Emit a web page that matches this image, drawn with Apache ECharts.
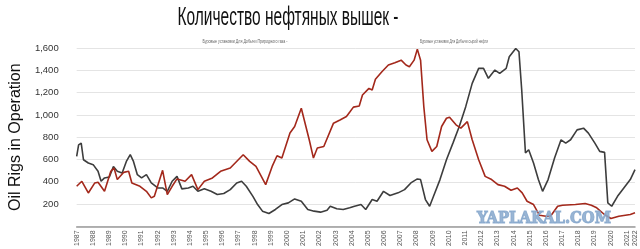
<!DOCTYPE html>
<html>
<head>
<meta charset="utf-8">
<script src="https://cdn.jsdelivr.net/npm/echarts@6/dist/echarts.min.js"></script>
<style>
html,body{margin:0;padding:0;background:#fff;}
#chart{width:640px;height:249px;}
</style>
</head>
<body>
<div id="chart"></div>
<script>
// ---- DATA ----
var titleText = 'Количество нефтяных вышек -';
var yAxisName = 'Oil Rigs in Operation';
var gasName = 'Буровые установки Для Добычи Природного газа -';
var oilName = 'Буровые установки Для Добычи сырой нефти';
var watermark = 'YAPLAKAL.COM';

var gasYears = [1987.0,1987.32,1987.72,1988.12,1988.32,1988.72,1989.11,1989.31,1989.51,1989.91,1990.21,1990.41,1990.91,1991.31,1991.61,1991.8,1992.31,1992.6,1992.9,1993.2,1993.7,1994.1,1994.49,1994.89,1995.39,1995.89,1996.49,1997.29,1997.69,1998.08,1998.68,1999.08,1999.38,1999.68,2000.18,2000.47,2000.88,2001.37,2001.63,2001.87,2002.27,2002.87,2003.27,2003.67,2003.9,2004.1,2004.46,2004.66,2005.06,2005.26,2005.46,2005.86,2006.26,2006.66,2007.05,2007.35,2007.56,2007.85,2008.05,2008.25,2008.45,2008.65,2008.95,2009.25,2009.55,2009.85,2010.04,2010.44,2010.74,2011.14,2011.44,2011.84,2012.24,2012.64,2013.03,2013.44,2013.84,2014.23,2014.53,2014.83,2015.23,2015.6,2016.0,2016.3,2016.72,2017.02,2017.82,2018.42,2018.8,2019.1,2019.61,2020.01,2020.5,2021.21,2021.5];
var gasValues = [360,405,300,390,396,315,494,524,420,485,494,390,360,315,256,270,503,286,360,426,405,464,330,405,435,494,524,643,583,538,375,538,634,613,837,896,1060,777,613,703,717,926,955,985,1030,1070,1080,1179,1238,1223,1319,1387,1447,1467,1491,1447,1432,1491,1590,1491,1074,777,673,717,896,970,980,911,881,940,777,598,449,420,375,360,324,345,301,226,196,100,92,95,181,190,196,205,190,170,107,71,92,107,122];

var oilYears = [1987.0,1987.12,1987.28,1987.42,1987.72,1988.02,1988.32,1988.51,1988.72,1989.02,1989.27,1989.51,1989.81,1990.07,1990.31,1990.51,1990.75,1991.01,1991.31,1991.61,1992.01,1992.31,1992.6,1992.9,1993.2,1993.5,1993.9,1994.19,1994.49,1994.89,1995.3,1995.69,1996.09,1996.49,1996.89,1997.19,1997.48,1997.89,1998.18,1998.48,1998.88,1999.28,1999.68,2000.08,2000.47,2000.88,2001.28,2001.67,2002.07,2002.47,2002.67,2003.07,2003.47,2003.87,2004.17,2004.57,2004.86,2005.26,2005.56,2005.96,2006.36,2006.86,2007.26,2007.65,2008.05,2008.25,2008.55,2008.81,2009.05,2009.45,2009.85,2010.25,2010.64,2011.04,2011.44,2011.84,2012.14,2012.44,2012.84,2013.14,2013.54,2013.73,2014.13,2014.33,2014.5,2014.73,2014.93,2015.23,2015.53,2015.79,2016.13,2016.53,2016.93,2017.22,2017.52,2017.92,2018.32,2018.62,2019.02,2019.32,2019.62,2019.82,2020.06,2020.42,2020.81,2021.21,2021.5];
var oilValues = [628,732,747,598,569,554,494,405,435,444,538,494,479,583,643,583,464,435,464,390,345,345,315,405,449,337,345,360,315,337,315,286,295,330,390,405,360,270,196,137,116,152,196,211,247,226,152,137,128,146,181,158,152,167,181,196,152,241,226,315,277,301,330,390,426,420,241,181,270,420,598,747,896,1074,1283,1417,1417,1328,1402,1372,1417,1521,1596,1566,1223,658,688,569,420,315,420,613,777,747,777,866,881,837,747,673,664,211,181,270,345,420,509];

var yTicks = [200,400,600,800,1000,1200,1400,1600];

// ---- BUILD ----
function pairs(xs, ys){ var o=[]; for(var i=0;i<xs.length;i++) o.push([xs[i], ys[i]]); return o; }
var measureCtx = document.createElement('canvas').getContext('2d');
function fitScale(text, font, target){ measureCtx.font = font; var w = measureCtx.measureText(text).width; return target / w; }

var titleFont = '26px "Liberation Sans"';
var titleScale = fitScale(titleText, titleFont, 221);
var legFont = '5px "Liberation Sans"';
var gasScale = fitScale(gasName, legFont, 85);
var oilScale = fitScale(oilName, legFont, 68);
var wmFont = 'bold 17px "DejaVu Serif"';
var wmScale = fitScale(watermark, wmFont, 134);

var chart = echarts.init(document.getElementById('chart'), null, {renderer:'canvas'});
chart.setOption({
  animation: false,
  backgroundColor: '#fff',
  grid: {left: 58, right: 5, top: 48, bottom: 22, containLabel: false},
  xAxis: {
    type: 'value', min: 1987, max: 2021.5, interval: 1,
    axisLine: {show: true, lineStyle: {color: '#9a9a9a', width: 1.5}},
    axisTick: {show: false},
    splitLine: {show: false},
    axisLabel: {
      rotate: 90, fontSize: 7, color: '#555', margin: 4,
      fontFamily: 'Liberation Sans', showMaxLabel: true, showMinLabel: true,
      formatter: function(v){ return v === 2021.5 ? '2022' : (Number.isInteger(v) ? String(v) : ''); }
    }
  },
  yAxis: {
    type: 'value', min: 0, max: 1600, interval: 200,
    name: yAxisName, nameLocation: 'middle', nameGap: 44,
    nameTextStyle: {fontSize: 16, color: '#111', fontFamily: 'Liberation Sans'},
    axisLine: {show: false}, axisTick: {show: false},
    splitLine: {lineStyle: {color: '#e4e4e4', width: 1}},
    axisLabel: {
      fontSize: 9.5, color: '#333', margin: 18, fontFamily: 'Liberation Sans',
      formatter: function(v){ return yTicks.indexOf(v) >= 0 ? v.toLocaleString('en-US') : ''; }
    }
  },
  series: [
    {name: gasName, type: 'line', showSymbol: false, data: pairs(gasYears, gasValues),
     lineStyle: {color: '#a3281b', width: 1.6}, itemStyle: {color: '#a3281b'}, z: 3},
    {name: oilName, type: 'line', showSymbol: false, data: pairs(oilYears, oilValues),
     lineStyle: {color: '#3d3d3d', width: 1.6}, itemStyle: {color: '#3d3d3d'}, z: 2}
  ],
  graphic: [
    {type: 'text', x: 288, y: 18, scaleX: titleScale, z: 10,
     style: {text: titleText, font: titleFont, fill: '#111', align: 'center', verticalAlign: 'middle'}},
    {type: 'text', x: 245, y: 42, scaleX: gasScale, z: 10,
     style: {text: gasName, font: legFont, fill: '#666', align: 'center', verticalAlign: 'middle'}},
    {type: 'text', x: 454, y: 42, scaleX: oilScale, z: 10,
     style: {text: oilName, font: legFont, fill: '#666', align: 'center', verticalAlign: 'middle'}},
    {type: 'text', x: 544, y: 219, scaleX: wmScale, z: 20,
     style: {text: watermark, font: wmFont, fill: 'rgba(135,168,204,0.85)', stroke: 'rgba(135,168,204,0.85)', lineWidth: 1.2, align: 'center', verticalAlign: 'middle'}}
  ]
});
</script>
</body>
</html>
